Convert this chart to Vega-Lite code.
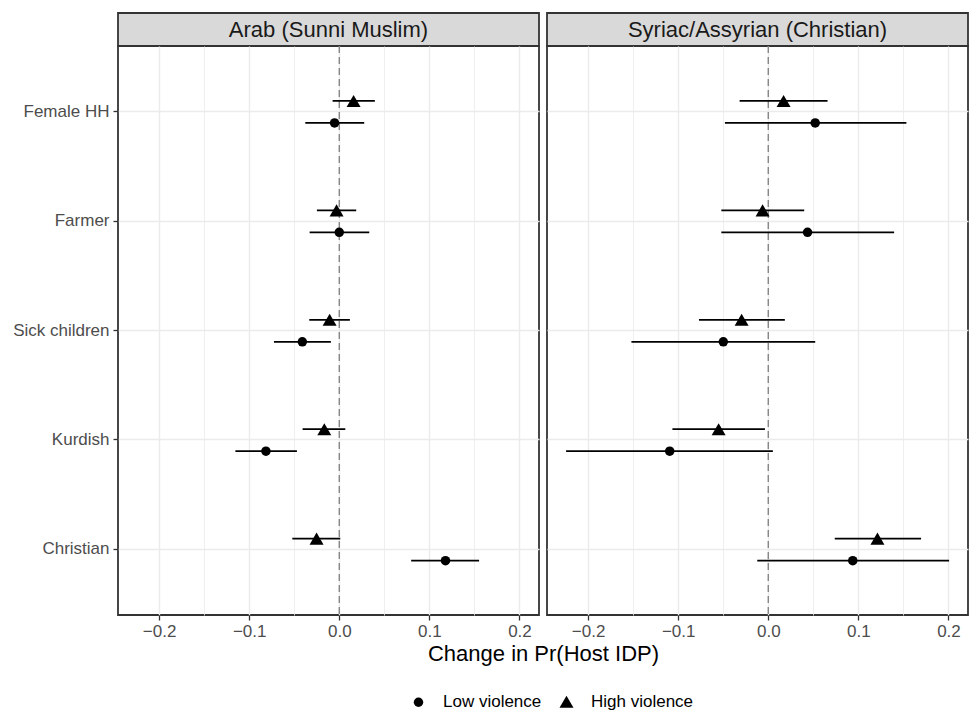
{
  "$schema": "https://vega.github.io/schema/vega-lite/v6.json",
  "padding": {"left": 11, "top": 12, "right": 1, "bottom": 4},
  "datasets": {
    "est": [
      {"panel": "Arab (Sunni Muslim)", "term": "Female HH", "violence": "High violence", "est": 0.0159, "lo": -0.0074, "hi": 0.0395},
      {"panel": "Arab (Sunni Muslim)", "term": "Female HH", "violence": "Low violence", "est": -0.0052, "lo": -0.0377, "hi": 0.0277},
      {"panel": "Arab (Sunni Muslim)", "term": "Farmer", "violence": "High violence", "est": -0.003, "lo": -0.0248, "hi": 0.0188},
      {"panel": "Arab (Sunni Muslim)", "term": "Farmer", "violence": "Low violence", "est": 0.0, "lo": -0.0329, "hi": 0.0333},
      {"panel": "Arab (Sunni Muslim)", "term": "Sick children", "violence": "High violence", "est": -0.0107, "lo": -0.0333, "hi": 0.0118},
      {"panel": "Arab (Sunni Muslim)", "term": "Sick children", "violence": "Low violence", "est": -0.041, "lo": -0.0725, "hi": -0.0093},
      {"panel": "Arab (Sunni Muslim)", "term": "Kurdish", "violence": "High violence", "est": -0.0166, "lo": -0.0407, "hi": 0.0067},
      {"panel": "Arab (Sunni Muslim)", "term": "Kurdish", "violence": "Low violence", "est": -0.0814, "lo": -0.1153, "hi": -0.047},
      {"panel": "Arab (Sunni Muslim)", "term": "Christian", "violence": "High violence", "est": -0.0252, "lo": -0.0521, "hi": 0.0011},
      {"panel": "Arab (Sunni Muslim)", "term": "Christian", "violence": "Low violence", "est": 0.1179, "lo": 0.0798, "hi": 0.1552},
      {"panel": "Syriac/Assyrian (Christian)", "term": "Female HH", "violence": "High violence", "est": 0.017, "lo": -0.0318, "hi": 0.0658},
      {"panel": "Syriac/Assyrian (Christian)", "term": "Female HH", "violence": "Low violence", "est": 0.0521, "lo": -0.0481, "hi": 0.1533},
      {"panel": "Syriac/Assyrian (Christian)", "term": "Farmer", "violence": "High violence", "est": -0.0063, "lo": -0.0521, "hi": 0.0399},
      {"panel": "Syriac/Assyrian (Christian)", "term": "Farmer", "violence": "Low violence", "est": 0.0436, "lo": -0.0521, "hi": 0.1397},
      {"panel": "Syriac/Assyrian (Christian)", "term": "Sick children", "violence": "High violence", "est": -0.0296, "lo": -0.0769, "hi": 0.0184},
      {"panel": "Syriac/Assyrian (Christian)", "term": "Sick children", "violence": "Low violence", "est": -0.0499, "lo": -0.1519, "hi": 0.0521},
      {"panel": "Syriac/Assyrian (Christian)", "term": "Kurdish", "violence": "High violence", "est": -0.0551, "lo": -0.1064, "hi": -0.0037},
      {"panel": "Syriac/Assyrian (Christian)", "term": "Kurdish", "violence": "Low violence", "est": -0.1094, "lo": -0.2244, "hi": 0.0051},
      {"panel": "Syriac/Assyrian (Christian)", "term": "Christian", "violence": "High violence", "est": 0.1212, "lo": 0.0738, "hi": 0.1696},
      {"panel": "Syriac/Assyrian (Christian)", "term": "Christian", "violence": "Low violence", "est": 0.0938, "lo": -0.0122, "hi": 0.2007}
    ],
    "panels": [
      {"panel": "Arab (Sunni Muslim)"},
      {"panel": "Syriac/Assyrian (Christian)"}
    ],
    "ref": [{"ref": 0}]
  },
  "config": {
    "font": "Liberation Sans",
    "view": {"stroke": "#333333", "strokeWidth": 1.8},
    "axis": {
      "labelFont": "Liberation Sans",
      "labelFontSize": 17,
      "labelColor": "#4D4D4D",
      "tickColor": "#333333",
      "tickSize": 5,
      "tickWidth": 1.3,
      "domain": false,
      "gridColor": "#EBEBEB",
      "titleFont": "Liberation Sans",
      "titleFontSize": 22,
      "titleFontWeight": "normal",
      "titleColor": "#000000"
    },
    "legend": {
      "labelFont": "Liberation Sans",
      "labelFontSize": 17,
      "labelColor": "#000000"
    }
  },
  "bounds": "flush",
  "columns": 2,
  "spacing": {"row": 0, "column": 8},
  "resolve": {"scale": {"shape": "shared", "size": "shared"}, "legend": {"shape": "shared", "size": "shared"}},
  "concat": [
    {
      "width": 421,
      "height": 33,
      "view": {"fill": "#D9D9D9", "stroke": "#333333", "strokeWidth": 1.8},
      "data": {"name": "panels"},
      "transform": [{"filter": "datum.panel === 'Arab (Sunni Muslim)'"}],
      "mark": {"type": "text", "fontSize": 22, "color": "#1A1A1A", "font": "Liberation Sans"},
      "encoding": {"text": {"field": "panel", "type": "nominal"}}
    },
    {
      "width": 421,
      "height": 33,
      "view": {"fill": "#D9D9D9", "stroke": "#333333", "strokeWidth": 1.8},
      "data": {"name": "panels"},
      "transform": [{"filter": "datum.panel === 'Syriac/Assyrian (Christian)'"}],
      "mark": {"type": "text", "fontSize": 22, "color": "#1A1A1A", "font": "Liberation Sans"},
      "encoding": {"text": {"field": "panel", "type": "nominal"}}
    },
    {
      "width": 421,
      "height": 569,
      "layer": [
        {
          "data": {"name": "ref"},
          "mark": {"type": "rule", "strokeDash": [7, 4], "color": "#7F7F7F", "strokeWidth": 1.3},
          "encoding": {
            "x": {
              "field": "ref", "type": "quantitative",
              "scale": {"domain": [-0.2456, 0.2217], "nice": false, "zero": false},
              "axis": {
                "values": [-0.2, -0.15, -0.1, -0.05, 0, 0.05, 0.1, 0.15, 0.2],
                "format": ".1f",
                "labelExpr": "abs(round(datum.value*100)) % 10 == 0 ? datum.label : ''",
                "labelOverlap": false,
                "labelPadding": 3,
                "tickOpacity": {"condition": {"test": "abs(round(datum.value*100)) % 10 != 0", "value": 0}, "value": 1},
                "gridWidth": {"condition": {"test": "abs(round(datum.value*100)) % 10 != 0", "value": 0.8}, "value": 1.4},
                "grid": true,
                "title": "Change in Pr(Host IDP)",
                "titleX": 425,
                "titlePadding": 4
              }
            }
          }
        },
        {
          "data": {"name": "est"},
          "transform": [{"filter": "datum.panel === 'Arab (Sunni Muslim)'"}],
          "mark": {"type": "rule", "color": "#000000", "strokeWidth": 1.8},
          "encoding": {
            "x": {"field": "lo", "type": "quantitative"},
            "x2": {"field": "hi"},
            "y": {
              "field": "term", "type": "nominal",
              "scale": {"domain": ["Female HH", "Farmer", "Sick children", "Kurdish", "Christian"], "paddingInner": 0, "paddingOuter": 0.1},
              "axis": {"title": null, "grid": true, "gridWidth": 1.4, "bandPosition": 0.5, "labelPadding": 4, "tickSize": 5}
            },
            "yOffset": {"field": "violence", "type": "nominal", "scale": {"type": "point", "domain": ["High violence", "Low violence"], "range": [33, 77]}}
          }
        },
        {
          "data": {"name": "est"},
          "transform": [{"filter": "datum.panel === 'Arab (Sunni Muslim)'"}],
          "mark": {"type": "point", "filled": true, "opacity": 1, "color": "#000000"},
          "encoding": {
            "x": {"field": "est", "type": "quantitative"},
            "y": {"field": "term", "type": "nominal"},
            "yOffset": {"field": "violence", "type": "nominal"},
            "shape": {
              "field": "violence", "type": "nominal",
              "scale": {"domain": ["Low violence", "High violence"], "range": ["circle", "triangle-up"]},
              "legend": {"title": null, "orient": "none", "legendX": 292, "legendY": 680, "direction": "horizontal", "labelOffset": 16, "columnPadding": 14}
            },
            "size": {
              "field": "violence", "type": "nominal",
              "scale": {"domain": ["Low violence", "High violence"], "range": [90, 196]},
              "legend": {"title": null, "orient": "none", "legendX": 292, "legendY": 680, "direction": "horizontal", "labelOffset": 16, "columnPadding": 14}
            }
          }
        }
      ]
    },
    {
      "width": 421,
      "height": 569,
      "layer": [
        {
          "data": {"name": "ref"},
          "mark": {"type": "rule", "strokeDash": [7, 4], "color": "#7F7F7F", "strokeWidth": 1.3},
          "encoding": {
            "x": {
              "field": "ref", "type": "quantitative",
              "scale": {"domain": [-0.2456, 0.2217], "nice": false, "zero": false},
              "axis": {
                "values": [-0.2, -0.15, -0.1, -0.05, 0, 0.05, 0.1, 0.15, 0.2],
                "format": ".1f",
                "labelExpr": "abs(round(datum.value*100)) % 10 == 0 ? datum.label : ''",
                "labelOverlap": false,
                "labelPadding": 3,
                "tickOpacity": {"condition": {"test": "abs(round(datum.value*100)) % 10 != 0", "value": 0}, "value": 1},
                "gridWidth": {"condition": {"test": "abs(round(datum.value*100)) % 10 != 0", "value": 0.8}, "value": 1.4},
                "grid": true,
                "title": null
              }
            }
          }
        },
        {
          "data": {"name": "est"},
          "transform": [{"filter": "datum.panel === 'Syriac/Assyrian (Christian)'"}],
          "mark": {"type": "rule", "color": "#000000", "strokeWidth": 1.8},
          "encoding": {
            "x": {"field": "lo", "type": "quantitative"},
            "x2": {"field": "hi"},
            "y": {
              "field": "term", "type": "nominal",
              "scale": {"domain": ["Female HH", "Farmer", "Sick children", "Kurdish", "Christian"], "paddingInner": 0, "paddingOuter": 0.1},
              "axis": {"title": null, "grid": true, "gridWidth": 1.4, "bandPosition": 0.5, "labels": false, "ticks": false}
            },
            "yOffset": {"field": "violence", "type": "nominal", "scale": {"type": "point", "domain": ["High violence", "Low violence"], "range": [33, 77]}}
          }
        },
        {
          "data": {"name": "est"},
          "transform": [{"filter": "datum.panel === 'Syriac/Assyrian (Christian)'"}],
          "mark": {"type": "point", "filled": true, "opacity": 1, "color": "#000000"},
          "encoding": {
            "x": {"field": "est", "type": "quantitative"},
            "y": {"field": "term", "type": "nominal"},
            "yOffset": {"field": "violence", "type": "nominal"},
            "shape": {"field": "violence", "type": "nominal"},
            "size": {"field": "violence", "type": "nominal"}
          }
        }
      ]
    }
  ]
}
